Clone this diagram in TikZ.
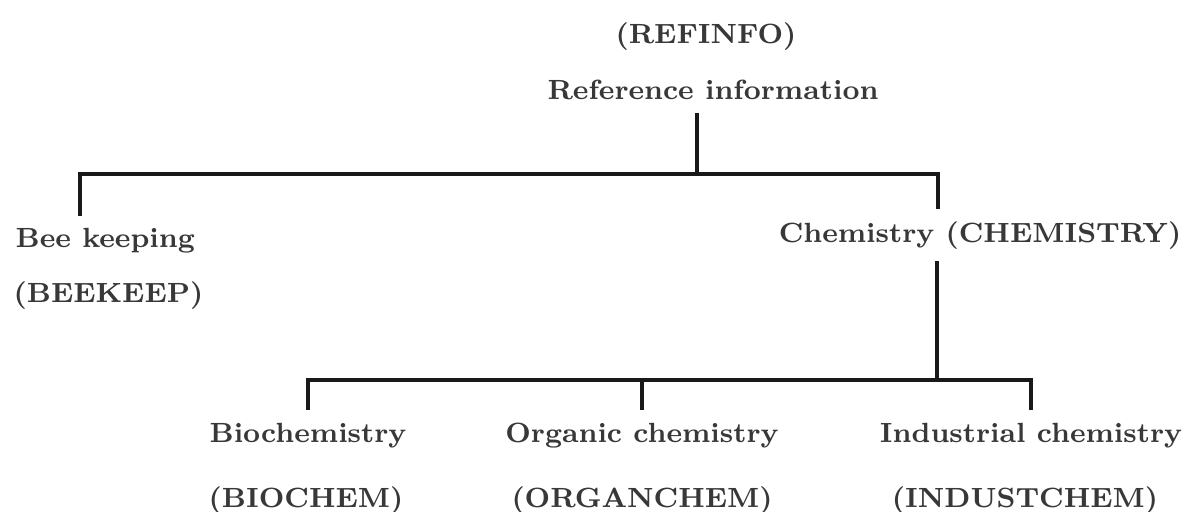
\documentclass[tikz,border=0pt]{standalone}
\usepackage{tikz}

\begin{document}
\begin{tikzpicture}[x=0.01cm,y=-0.01cm,
  lbl/.style={text=black!78,font=\fontsize{7.9}{10}\selectfont\bfseries,anchor=base,inner xsep=0pt},
  conn/.style={line width=0.9pt,black!90}]
\useasboundingbox (0,0) rectangle (1187,512);
% labels
\node[lbl] (refcode) at (706,44) {(REFINFO)};
\node[lbl] (refinfo) at (713,100) {Reference information};
\node[lbl,anchor=base west] (bee) at (15,248) {Bee keeping};
\node[lbl,anchor=base west] (beecode) at (13,302) {(BEEKEEP)};
\node[lbl,anchor=base east] (chem) at (1182,242) {Chemistry (CHEMISTRY)};
\foreach \n/\x/\cx/\t/\c in {bio/308/306/Biochemistry/BIOCHEM, org/642/642/Organic chemistry/ORGANCHEM, ind/1031/1025/Industrial chemistry/INDUSTCHEM} {
  \node[lbl] (\n) at (\x,442) {\t};
  \node[lbl] (\n code) at (\cx,507) {(\c)};
}
% connectors
\coordinate (topbar) at (697,174);
\coordinate (lefttop) at (80,174);
\coordinate (righttop) at (938,174);
\coordinate (midbar) at (937,380);
\draw[conn] (topbar |- refinfo.south) -- (topbar);
\draw[conn] (lefttop |- bee.north) -- (lefttop) -- (righttop) -- (righttop |- chem.north);
\draw[conn] (midbar |- chem.south) -- (midbar);
\draw[conn] (bio.north) -- (bio.north |- midbar) -- (ind.north |- midbar) -- (ind.north);
\draw[conn] (org.north) -- (org.north |- midbar);
\end{tikzpicture}
\end{document}
